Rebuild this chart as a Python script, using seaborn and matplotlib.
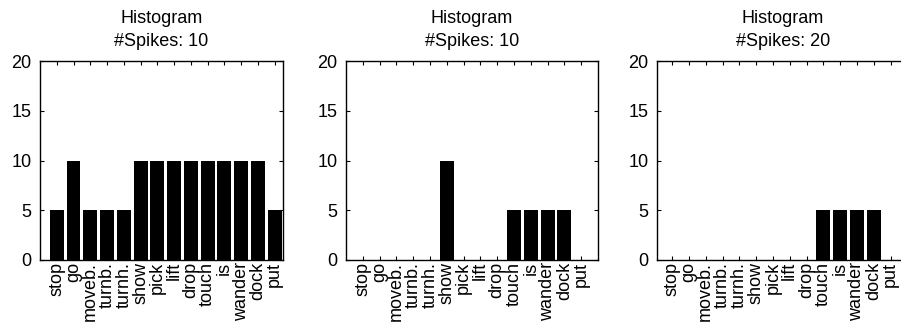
import matplotlib
matplotlib.use("Agg")
import matplotlib.pyplot as plt
import seaborn as sns
import pandas as pd

categories = ["stop", "go", "moveb.", "turnb.", "turnh.", "show", "pick", "lift",
              "drop", "touch", "is", "wander", "dock", "put"]
counts_1 = [5, 10, 5, 5, 5, 10, 10, 10, 10, 10, 10, 10, 10, 5]
counts_2 = [0, 0, 0, 0, 0, 10, 0, 0, 0, 5, 5, 5, 5, 0]
counts_3 = [0, 0, 0, 0, 0, 0, 0, 0, 0, 5, 5, 5, 5, 0]
titles = ["Histogram\n#Spikes: 10", "Histogram\n#Spikes: 10", "Histogram\n#Spikes: 20"]
y_ticks = [0, 5, 10, 15, 20]

sns.set_style("white")
plt.rcParams["font.family"] = ["Liberation Sans", "DejaVu Sans"]
for k in ["text.color", "axes.labelcolor", "xtick.color", "ytick.color", "axes.edgecolor"]:
    plt.rcParams[k] = "black"

W, H = 901, 329
fig = plt.figure(figsize=(W / 100, H / 100), dpi=100)

panels = [
    (40, 283, (-1.0, 13.5)),
    (346, 598, (-1.0, 14.0)),
    (657, 909, (-0.9, 14.1)),
]
top_px, bot_px = 61, 260
FS = 13

for (lpx, rpx, xl), vals, title in zip(panels, [counts_1, counts_2, counts_3], titles):
    ax = fig.add_axes([lpx / W, 1 - bot_px / H, (rpx - lpx) / W, (bot_px - top_px) / H])
    df = pd.DataFrame({"cat": categories, "count": vals})
    sns.barplot(data=df, x="cat", y="count", order=categories, color="black",
                saturation=1, width=0.83, edgecolor="none", linewidth=0, ax=ax)
    ax.set_xlim(*xl)
    ax.set_ylim(0, 20)
    ax.set_yticks(y_ticks)
    ax.set_yticklabels([str(v) for v in y_ticks], fontsize=FS)
    ax.set_xticks(range(len(categories)))
    ax.set_xticklabels(categories, rotation=90, fontsize=FS)
    ax.set_xlabel("")
    ax.set_ylabel("")
    ax.set_title(title, fontsize=FS, pad=11, color="black", linespacing=1.45)
    ax.tick_params(direction="in", length=3, width=0.8, top=True, right=True,
                   bottom=True, left=True, colors="black")
    ax.tick_params(axis="x", pad=1.5)
    ax.tick_params(axis="y", pad=6)
    for s in ax.spines.values():
        s.set_visible(True)
        s.set_linewidth(1.0)
        s.set_color("black")

fig.savefig("out.png", dpi=100)
